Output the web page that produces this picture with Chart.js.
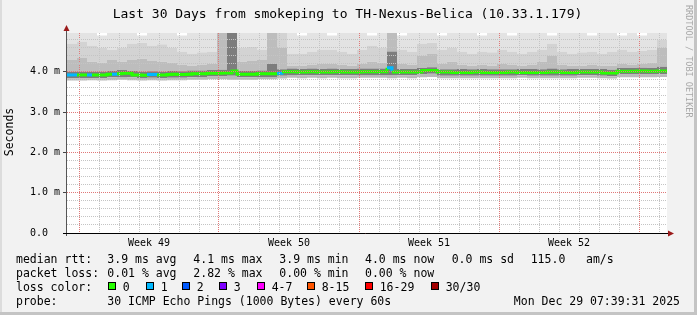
<!DOCTYPE html>
<html>
<head>
<meta charset="utf-8">
<title>Last 30 Days from smokeping to TH-Nexus-Belica</title>
<script src="https://cdn.jsdelivr.net/npm/chart.js@4.4.1/dist/chart.umd.min.js"></script>
<style>
  html, body { margin: 0; padding: 0; background: #f2f2f2; }
  canvas { display: block; }
</style>
</head>
<body>
<canvas id="graph" width="697" height="315"></canvas>
<script>
// x values are days counted from the week 49 boundary (Sun Nov 30 00:00)
const firstBucket = -0.6;
const lastTime = 29.4;
const medianStep = 0.25;  // 6 h per median bucket
const smokeStep = 0.5;    // 12 h per smoke bucket

const titleText = "Last 30 Days from smokeping to TH-Nexus-Belica (10.33.1.179)";
const weekNames = ["Week 49", "Week 50", "Week 51", "Week 52"];
const weekStarts = [0, 7, 14, 21];
const dayTicks = [0, 1, 2, 3, 4, 5, 6, 7, 8, 9, 10, 11, 12, 13, 14, 15, 16, 17, 18, 19,
  20, 21, 22, 23, 24, 25, 26, 27, 28, 29];

const yMajor = [0, 1, 2, 3, 4];
const yLabels = ["0.0  ", "1.0 m", "2.0 m", "3.0 m", "4.0 m"];
const yMinor = [0, 0.2, 0.4, 0.6, 0.8, 1, 1.2, 1.4, 1.6, 1.8, 2, 2.2, 2.4, 2.6, 2.8,
  3, 3.2, 3.4, 3.6, 3.8, 4, 4.2, 4.4, 4.6, 4.8];

// median rtt (ms), 6 h buckets
const median = [
  3.92, 3.92, 3.92, 3.92, 3.92, 3.92, 3.92, 3.92, 3.94, 3.94, 3.95, 3.96, 3.96, 3.92, 3.92, 3.91, 3.93, 3.93, 3.92, 3.92,
  3.93, 3.94, 3.93, 3.93, 3.94, 3.95, 3.95, 3.95, 3.96, 3.96, 3.96, 3.97, 3.97, 4.02, 3.94, 3.94, 3.94, 3.94, 3.95, 3.95,
  3.95, 3.95, 3.96, 4.00, 4.00, 4.00, 3.99, 3.99, 4.00, 4.00, 3.99, 3.99, 3.99, 4.00, 4.00, 3.99, 3.99, 3.99, 3.99, 4.00,
  4.00, 4.00, 4.00, 4.00, 4.10, 3.99, 3.99, 3.99, 3.99, 3.99, 3.99, 4.03, 4.03, 4.03, 3.99, 3.99, 3.99, 3.98, 3.98, 3.98,
  3.98, 3.99, 3.99, 3.98, 3.98, 3.98, 3.98, 3.98, 3.99, 3.99, 3.98, 3.98, 3.98, 3.98, 3.98, 3.98, 3.99, 3.99, 3.99, 3.98,
  3.98, 3.98, 3.99, 3.99, 3.99, 3.99, 3.99, 3.97, 3.97, 3.97, 4.01, 4.01, 4.01, 4.01, 4.02, 4.02, 4.01, 4.01, 4.02, 4.02
];
// lost pings per bucket, index into lossColors
const loss = [
  1, 1, 0, 0, 1, 0, 0, 0, 0, 1, 0, 0, 0, 0, 0, 0, 1, 1, 0, 0,
  0, 0, 0, 0, 0, 0, 0, 0, 0, 0, 0, 0, 0, 0, 0, 0, 0, 0, 0, 0,
  0, 0, 1, 0, 0, 0, 0, 0, 0, 0, 0, 0, 0, 0, 0, 0, 0, 0, 0, 0,
  0, 0, 0, 0, 1, 0, 0, 0, 0, 0, 0, 0, 0, 0, 0, 0, 0, 0, 0, 0,
  0, 0, 0, 0, 0, 0, 0, 0, 0, 0, 0, 0, 0, 0, 0, 0, 0, 0, 0, 0,
  0, 0, 0, 0, 0, 0, 0, 0, 0, 0, 0, 0, 0, 0, 0, 0, 0, 0, 0, 0
];

// smoke: spread of the 30 pings (ms), 12 h buckets
const smokeLo = [
  3.78, 3.78, 3.79, 3.78, 3.79, 3.80, 3.79, 3.78, 3.79, 3.78, 3.79, 3.79, 3.80, 3.80, 3.81,
  3.81, 3.80, 3.80, 3.80, 3.81, 3.81, 3.83, 3.85, 3.84, 3.85, 3.84, 3.85, 3.84, 3.84, 3.85,
  3.85, 3.85, 3.84, 3.85, 3.84, 3.86, 3.87, 3.84, 3.84, 3.84, 3.84, 3.84, 3.84, 3.84, 3.84,
  3.85, 3.84, 3.84, 3.84, 3.84, 3.84, 3.85, 3.85, 3.84, 3.83, 3.86, 3.86, 3.86, 3.86, 3.87
];
const smokeQ1 = [
  3.84, 3.84, 3.84, 3.84, 3.86, 3.87, 3.86, 3.83, 3.85, 3.84, 3.85, 3.85, 3.86, 3.87, 3.88,
  3.88, 3.90, 3.86, 3.86, 3.87, 3.87, 3.90, 3.92, 3.91, 3.91, 3.91, 3.91, 3.91, 3.91, 3.92,
  3.92, 3.92, 3.92, 3.91, 3.91, 3.93, 3.95, 3.90, 3.90, 3.90, 3.90, 3.90, 3.90, 3.90, 3.90,
  3.91, 3.90, 3.90, 3.90, 3.90, 3.90, 3.91, 3.91, 3.90, 3.89, 3.93, 3.93, 3.93, 3.93, 3.94
];
const smokeQ3 = [
  4.00, 4.00, 4.00, 4.00, 4.02, 4.04, 4.02, 4.00, 4.01, 4.00, 4.02, 4.01, 4.03, 4.03, 4.04,
  4.05, 4.96, 4.02, 4.02, 4.03, 4.20, 4.06, 4.08, 4.07, 4.08, 4.07, 4.08, 4.07, 4.07, 4.08,
  4.08, 4.08, 4.50, 4.07, 4.07, 4.09, 4.11, 4.06, 4.06, 4.07, 4.06, 4.07, 4.06, 4.06, 4.06,
  4.07, 4.07, 4.06, 4.08, 4.06, 4.07, 4.07, 4.07, 4.07, 4.05, 4.09, 4.09, 4.10, 4.09, 4.12
];
const smokeP75 = [
  4.30, 4.35, 4.25, 4.22, 4.30, 4.25, 4.30, 4.32, 4.28, 4.25, 4.22, 4.18, 4.15, 4.18, 4.20,
  4.96, 4.96, 4.25, 4.28, 4.30, 4.96, 4.60, 4.15, 4.15, 4.18, 4.20, 4.20, 4.18, 4.15, 4.20,
  4.25, 4.22, 4.96, 4.20, 4.18, 4.40, 4.45, 4.20, 4.25, 4.18, 4.15, 4.18, 4.15, 4.20, 4.18,
  4.15, 4.18, 4.25, 4.40, 4.18, 4.15, 4.15, 4.18, 4.15, 4.15, 4.20, 4.18, 4.20, 4.22, 4.60
];
const smokeP90 = [
  4.70, 4.75, 4.65, 4.60, 4.55, 4.60, 4.70, 4.72, 4.65, 4.68, 4.60, 4.50, 4.45, 4.48, 4.50,
  4.96, 4.96, 4.60, 4.62, 4.55, 4.96, 4.96, 4.45, 4.45, 4.50, 4.55, 4.55, 4.50, 4.45, 4.55,
  4.65, 4.60, 4.96, 4.55, 4.50, 4.70, 4.72, 4.55, 4.60, 4.50, 4.45, 4.50, 4.48, 4.55, 4.50,
  4.45, 4.50, 4.55, 4.70, 4.50, 4.45, 4.48, 4.50, 4.45, 4.50, 4.55, 4.50, 4.52, 4.55, 4.80
];
const smokeHi = [
  4.96, 4.96, 4.96, 4.90, 4.96, 4.96, 4.96, 4.90, 4.96, 4.96, 4.96, 4.90, 4.96, 4.96, 4.96,
  4.96, 4.96, 4.96, 4.96, 4.96, 4.96, 4.96, 4.96, 4.90, 4.96, 4.96, 4.90, 4.96, 4.96, 4.96,
  4.90, 4.96, 4.96, 4.90, 4.96, 4.96, 4.96, 4.90, 4.96, 4.96, 4.96, 4.90, 4.96, 4.96, 4.90,
  4.96, 4.96, 4.96, 4.90, 4.96, 4.96, 4.96, 4.90, 4.96, 4.96, 4.90, 4.96, 4.90, 4.96, 4.96
];

const lossLabels = ["0", "1", "2", "3", "4-7", "8-15", "16-29", "30/30"];
const lossColors = ["#26ff00", "#00b8ff", "#0059ff", "#7e00ff", "#ff00ff", "#ff5500", "#ff0000", "#a10000"];

const rttLine = ["median rtt:", "3.9 ms avg", "4.1 ms max", "3.9 ms min", "4.0 ms now", "0.0 ms sd", "115.0", "am/s"];
const lossLine = ["packet loss:", "0.01 % avg", "2.82 % max", "0.00 % min", "0.00 % now"];
const probeLine = ["probe:", "30 ICMP Echo Pings (1000 Bytes) every 60s"];
const stampText = "Mon Dec 29 07:39:31 2025";

const MONO = '"DejaVu Sans Mono", monospace';

// step data: each value holds until the next bucket, last one until the end
function toPoints(arr, step) {
  const pts = arr.map((v, i) => ({ x: firstBucket + i * step, y: v }));
  pts.push({ x: lastTime, y: arr[arr.length - 1] });
  return pts;
}

function band(arr, color) {
  return {
    data: toPoints(arr, smokeStep),
    order: 1,
    stepped: true,
    borderWidth: 0,
    borderColor: "transparent",
    pointRadius: 0,
    backgroundColor: color || "transparent",
    fill: color ? "-1" : false
  };
}

const rrdDecor = {
  id: "rrdDecor",
  beforeDraw(chart) {
    const { ctx, chartArea: a, width, height } = chart;
    ctx.save();
    ctx.fillStyle = "#f2f2f2";
    ctx.fillRect(0, 0, width, height);
    ctx.fillStyle = "#dcdcdc";
    ctx.fillRect(0, 0, 2, height);
    ctx.fillStyle = "#c4c4c4";
    ctx.fillRect(width - 3, 0, 3, height);
    ctx.fillRect(0, height - 3, width, 3);
    ctx.fillStyle = "#ffffff";
    ctx.fillRect(a.left, a.top, a.right - a.left, a.bottom - a.top);
    ctx.restore();
  },
  afterDraw(chart) {
    const { ctx, chartArea: a } = chart;
    ctx.save();

    // axes + arrows
    ctx.strokeStyle = "#555";
    ctx.lineWidth = 1;
    ctx.beginPath();
    ctx.moveTo(a.left - 0.5, a.bottom + 3);
    ctx.lineTo(a.left - 0.5, a.top - 3);
    ctx.stroke();
    ctx.strokeStyle = "#000";
    ctx.beginPath();
    ctx.moveTo(a.left - 4, a.bottom + 0.5);
    ctx.lineTo(a.right + 1, a.bottom + 0.5);
    ctx.stroke();
    ctx.fillStyle = "#9b1b1b";
    ctx.beginPath();
    ctx.moveTo(a.left - 0.5, a.top - 8);
    ctx.lineTo(a.left - 3.5, a.top - 2);
    ctx.lineTo(a.left + 2.5, a.top - 2);
    ctx.fill();
    ctx.beginPath();
    ctx.moveTo(a.right + 7, a.bottom + 0.5);
    ctx.lineTo(a.right + 1, a.bottom - 2.5);
    ctx.lineTo(a.right + 1, a.bottom + 3.5);
    ctx.fill();

    // title
    ctx.fillStyle = "#000";
    ctx.font = "13px " + MONO;
    ctx.textAlign = "center";
    ctx.textBaseline = "alphabetic";
    ctx.fillText(titleText, 347.5, 18);

    // vertical unit label
    ctx.save();
    ctx.translate(10, 132);
    ctx.rotate(-Math.PI / 2);
    ctx.font = "11.5px " + MONO;
    ctx.textBaseline = "middle";
    ctx.fillText("Seconds", 0, 0);
    ctx.restore();

    // watermark
    ctx.save();
    ctx.translate(688, 5);
    ctx.rotate(Math.PI / 2);
    ctx.font = "8.5px " + MONO;
    ctx.fillStyle = "#a8a8a8";
    ctx.textAlign = "left";
    ctx.textBaseline = "middle";
    ctx.fillText("RRDTOOL / TOBI OETIKER", 0, 0);
    ctx.restore();

    // legend rows
    ctx.font = "11.5px " + MONO;
    ctx.textAlign = "left";
    ctx.textBaseline = "alphabetic";
    const rttX = [16, 107.3, 193.3, 279.3, 365, 451.7, 530.7, 586];
    rttLine.forEach((t, i) => ctx.fillText(t, rttX[i], 263));
    lossLine.forEach((t, i) => ctx.fillText(t, rttX[i], 277));
    ctx.fillText("loss color:", 16, 291);
    const boxX = [108.3, 145.7, 182.3, 219.3, 256.7, 306.7, 365, 430.5];
    lossLabels.forEach((t, i) => {
      const bx = Math.round(boxX[i]);
      ctx.fillStyle = lossColors[i];
      ctx.fillRect(bx, 282, 8, 8);
      ctx.strokeStyle = "#000";
      ctx.strokeRect(bx + 0.5, 282.5, 7, 7);
      ctx.fillStyle = "#000";
      ctx.fillText(t, bx + 14.7, 291);
    });
    ctx.fillText(probeLine[0], 16, 305);
    ctx.fillText(probeLine[1], 107.3, 305);
    ctx.textAlign = "right";
    ctx.fillText(stampText, 680, 305);

    ctx.restore();
  }
};

Chart.defaults.font.family = MONO;
Chart.defaults.color = "#000";

new Chart(document.getElementById("graph"), {
  type: "line",
  data: {
    datasets: [
      band(smokeLo, null),
      band(smokeQ1, "#b9b9b9"),
      band(smokeQ3, "#7d7d7d"),
      band(smokeP75, "#bdbdbd"),
      band(smokeP90, "#d3d3d3"),
      band(smokeHi, "#e3e3e3"),
      {
        data: toPoints(median, medianStep),
        order: 0,
        stepped: true,
        borderWidth: 3,
        borderColor: lossColors[0],
        borderCapStyle: "butt",
        pointRadius: 0,
        fill: false,
        segment: {
          borderColor: c => lossColors[loss[c.p0DataIndex]] || lossColors[0]
        }
      }
    ]
  },
  options: {
    responsive: false,
    animation: false,
    events: [],
    layout: { padding: { left: 0, right: 30, top: 33, bottom: 62 } },
    plugins: {
      legend: { display: false },
      tooltip: { enabled: false },
      title: { display: false }
    },
    scales: {
      x: {
        type: "linear",
        min: firstBucket,
        max: lastTime,
        afterBuildTicks: s => { s.ticks = dayTicks.map(v => ({ value: v })); },
        afterFit: s => { s.height = 0; },
        ticks: { display: false, autoSkip: false },
        grid: {
          z: 1,
          drawTicks: false,
          color: c => (c.tick && c.tick.value % 7 === 0) ? "#e07878" : "#c4c4c4"
        },
        border: { display: false, dash: [1, 1] }
      },
      xw: {
        type: "linear",
        position: "bottom",
        min: firstBucket,
        max: lastTime,
        afterBuildTicks: s => { s.ticks = weekStarts.map(v => ({ value: v + 3.5 })); },
        afterFit: s => { s.height = 20; },
        ticks: {
          autoSkip: false,
          maxRotation: 0,
          padding: 4,
          font: { size: 10 },
          callback: (v, i) => weekNames[i]
        },
        grid: { display: false, drawTicks: false },
        border: { display: false }
      },
      y: {
        min: 0,
        max: 4.96,
        afterBuildTicks: s => { s.ticks = yMinor.map(v => ({ value: v })); },
        afterFit: s => { s.width = 67; },
        ticks: {
          autoSkip: false,
          padding: 3,
          font: { size: 10 },
          callback: v => {
            const k = yMajor.findIndex(m => Math.abs(m - v) < 1e-6);
            return k < 0 ? "" : yLabels[k];
          }
        },
        grid: {
          z: 1,
          tickLength: 4,
          color: c => {
            const v = c.tick ? c.tick.value : 0;
            return Math.abs(v - Math.round(v)) < 1e-6 ? "#e07878" : "#c4c4c4";
          },
          tickColor: c => {
            const v = c.tick ? c.tick.value : 0;
            return Math.abs(v - Math.round(v)) < 1e-6 ? "#444" : "transparent";
          }
        },
        border: { display: false, dash: [1, 1] }
      }
    }
  },
  plugins: [rrdDecor]
});
</script>
</body>
</html>
